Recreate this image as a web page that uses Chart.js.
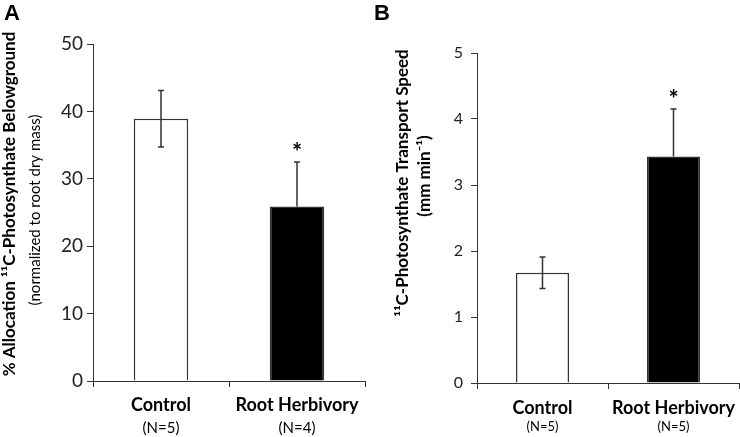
<!DOCTYPE html>
<html>
<head>
<meta charset="utf-8">
<script src="https://cdn.jsdelivr.net/npm/chart.js@4.4.1/dist/chart.umd.min.js"></script>
<style>
    body { margin: 0; background: #fff; }
    .panel { position: absolute; top: 0; width: 370px; height: 437px; }
    #panelA { left: 0; }
    #panelB { left: 370px; }
</style>
</head>
<body>
<div class="panel" id="panelA"><canvas id="chartA" width="370" height="437"></canvas></div>
<div class="panel" id="panelB"><canvas id="chartB" width="370" height="437"></canvas></div>
<script>
// shared categories
const groups = ['Control', 'Root Herbivory'];
const barFills = ['#ffffff', '#000000'];

// panel A: % allocation belowground
const allocationValues = [38.9, 25.9];
const allocationErrors = [4.2, 6.6];
const allocationN = ['(N=5)', '(N=4)'];
const allocationTicks = [0, 10, 20, 30, 40, 50];

// panel B: transport speed
const speedValues = [1.67, 3.43];
const speedErrors = [0.24, 0.72];
const speedN = ['(N=5)', '(N=5)'];
const speedTicks = [0, 1, 2, 3, 4, 5];

const FONT = 'Lato, "Open Sans", sans-serif';
const INK = '#222';

// draws error bars, asterisks, group labels, axis title and panel letter
const annotations = {
    id: 'annotations',
    afterDatasetsDraw(chart, args, opts) {
        const ctx = chart.ctx;
        const y = chart.scales.y;
        const meta = chart.getDatasetMeta(0);
        ctx.save();
        ctx.strokeStyle = '#333';
        ctx.lineWidth = 1.5;
        meta.data.forEach((bar, i) => {
            const v = opts.values[i];
            const e = opts.errors[i];
            const open = barFills[i] === '#ffffff';
            const top = y.getPixelForValue(v + e);
            // lower whisker only shows on the open bar
            const bottom = open ? y.getPixelForValue(v - e) : bar.y;
            ctx.beginPath();
            ctx.moveTo(bar.x, top);
            ctx.lineTo(bar.x, bottom);
            ctx.moveTo(bar.x - 3, top);
            ctx.lineTo(bar.x + 3, top);
            if (open) {
                ctx.moveTo(bar.x - 3, bottom);
                ctx.lineTo(bar.x + 3, bottom);
            }
            ctx.stroke();

            if (opts.significant[i]) {
                ctx.fillStyle = '#000';
                ctx.font = 'bold 24px ' + FONT;
                ctx.textAlign = 'center';
                ctx.textBaseline = 'middle';
                ctx.fillText('*', bar.x, top - 9);
            }

            // group labels under the axis
            ctx.fillStyle = '#000';
            ctx.textAlign = 'center';
            ctx.textBaseline = 'middle';
            ctx.font = 'bold 18px ' + FONT;
            ctx.fillText(groups[i], bar.x, opts.labelY);
            ctx.font = opts.nFont + ' ' + FONT;
            ctx.fillText(opts.nLabels[i], bar.x, opts.nY);
        });

        // y axis title, two lines
        opts.titles.forEach(t => {
            ctx.save();
            ctx.translate(t.x, t.y);
            ctx.rotate(-Math.PI / 2);
            ctx.font = t.font + ' ' + FONT;
            ctx.fillStyle = '#000';
            ctx.textAlign = 'center';
            ctx.textBaseline = 'middle';
            ctx.fillText(t.text, 0, 0);
            ctx.restore();
        });

        ctx.font = 'bold 22px Arial, "Liberation Sans", sans-serif';
        ctx.textAlign = 'left';
        ctx.textBaseline = 'alphabetic';
        ctx.fillStyle = '#000';
        ctx.fillText(opts.letter, opts.letterX, 20);
        ctx.restore();
    }
};

const makeChart = (elementID, values, ticks, setup) => {
    const context = document.getElementById(elementID).getContext('2d');
    return new Chart(context, {
        type: 'bar',
        data: {
            labels: groups,
            datasets: [{
                data: values,
                backgroundColor: barFills,
                borderColor: '#333',
                borderWidth: 1.5,
                barPercentage: setup.barPercentage,
                categoryPercentage: 1
            }]
        },
        options: {
            responsive: false,
            animation: false,
            layout: { padding: { top: setup.top, right: setup.right, left: 0, bottom: 0 } },
            plugins: {
                legend: { display: false },
                tooltip: { enabled: false },
                annotations: setup.annotations
            },
            scales: {
                x: {
                    grid: { display: true, drawOnChartArea: false, tickLength: 6, color: '#333', offset: true },
                    border: { color: '#333', width: 1 },
                    ticks: { display: false },
                    afterFit: s => { s.height = setup.xHeight; }
                },
                y: {
                    min: ticks[0],
                    max: ticks[ticks.length - 1],
                    ticks: {
                        stepSize: ticks[1] - ticks[0],
                        color: INK,
                        padding: setup.tickPad,
                        font: { family: FONT, size: setup.tickSize }
                    },
                    grid: { drawOnChartArea: false, tickLength: 6, color: '#333' },
                    border: { color: '#333', width: 1 },
                    afterFit: s => { s.width = setup.yWidth; }
                }
            }
        },
        plugins: [annotations]
    });
};

makeChart('chartA', allocationValues, allocationTicks, {
    barPercentage: 0.4,
    top: 44, right: 5, xHeight: 56, yWidth: 93,
    tickPad: 4, tickSize: 19,
    annotations: {
        values: allocationValues,
        errors: allocationErrors,
        significant: [false, true],
        nLabels: allocationN,
        nFont: '15px',
        labelY: 405, nY: 428,
        letter: 'A', letterX: 4,
        titles: [
            { text: '% Allocation \u00b9\u00b9C-Photosynthate Belowground', font: 'bold 17px', x: 10, y: 204 },
            { text: '(normalized to root dry mass)', font: '15px', x: 35, y: 210 }
        ]
    }
});

makeChart('chartB', speedValues, speedTicks, {
    barPercentage: 0.405,
    top: 53, right: 1, xHeight: 54, yWidth: 107,
    tickPad: 8, tickSize: 16,
    annotations: {
        values: speedValues,
        errors: speedErrors,
        significant: [false, true],
        nLabels: speedN,
        nFont: '13px',
        labelY: 408, nY: 427,
        letter: 'B', letterX: 4,
        titles: [
            { text: '\u00b9\u00b9C-Photosynthate Transport Speed', font: 'bold 17px', x: 33, y: 183 },
            { text: '(mm min\u207b\u00b9)', font: 'bold 17px', x: 55, y: 176 }
        ]
    }
});
</script>
</body>
</html>
